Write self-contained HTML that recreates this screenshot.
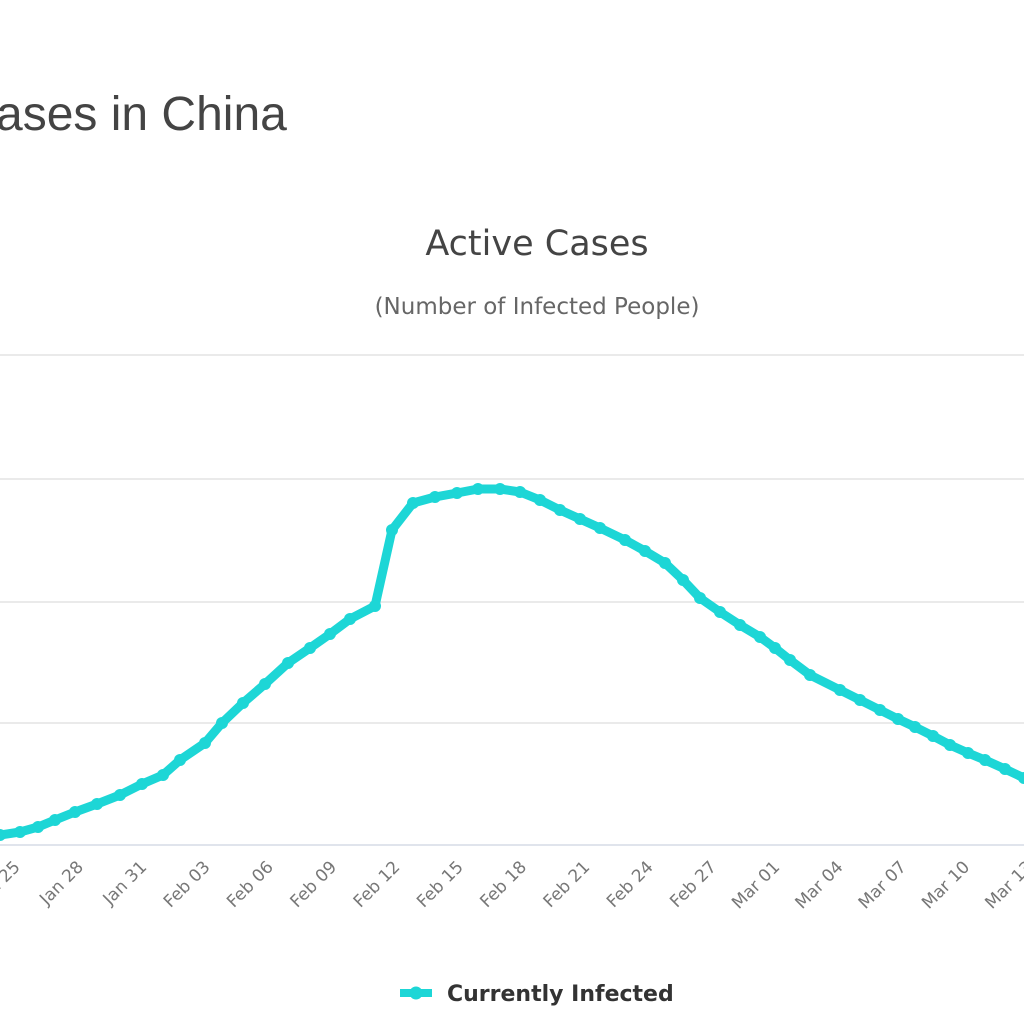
<!DOCTYPE html>
<html><head><meta charset="utf-8"><style>
html,body{margin:0;padding:0;background:#fff;width:1024px;height:1024px;overflow:hidden}
svg{display:block}
text{font-family:"DejaVu Sans","Liberation Sans",sans-serif}
</style></head><body>
<svg id="s" width="1024" height="1024" viewBox="0 0 1024 1024">
<text x="-4" y="130" font-size="48" fill="#444" style="font-family:'Liberation Sans',sans-serif">ases in China</text>
<text x="537" y="255" font-size="35" fill="#444" text-anchor="middle">Active Cases</text>
<text x="537" y="314" font-size="23" fill="#666" text-anchor="middle">(Number of Infected People)</text>
<g stroke="#e3e3e3" stroke-width="1.5">
<line x1="0" x2="1024" y1="355" y2="355"/><line x1="0" x2="1024" y1="479" y2="479"/>
<line x1="0" x2="1024" y1="602" y2="602"/><line x1="0" x2="1024" y1="723" y2="723"/>
<line x1="0" x2="1024" y1="845" y2="845" stroke="#d6dbe6"/>
</g>
<g id="lbl" font-size="17" fill="#777" text-anchor="end"></g>
<polyline id="pl" fill="none" stroke="#1dd6d6" stroke-width="9" stroke-linejoin="round"/>
<g id="mk" fill="#1dd6d6"></g>
<line x1="400" x2="432" y1="993" y2="993" stroke="#1dd6d6" stroke-width="8"/>
<circle cx="416" cy="993" r="6.5" fill="#1dd6d6"/>
<text x="447" y="1001" font-size="22" font-weight="bold" fill="#333">Currently Infected</text>
</svg>
<script>
var P=[[0,835],[20,832],[38,827],[55,820],[75,812],[97,804],[120,795],[142,784],[163,775],[180,760],[205,743],[222,723],[243,703],[265,684],[288,663],[310,648],[330,634],[350,619],[375,606],[392,530],[413,503],[435,497],[457,493],[478,489],[500,489],[520,492],[540,500],[560,510],[580,519],[600,528],[625,540],[645,551],[665,563],[683,580],[700,598],[720,612],[740,625],[760,637],[775,648],[790,660],[810,675],[840,690],[860,700],[880,710],[898,719],[915,727],[933,736],[950,745],[968,753],[985,760],[1005,769],[1024,778]];
document.getElementById('pl').setAttribute('points',P.map(p=>p.join(',')).join(' '));
var mk=document.getElementById('mk'),h='';
P.forEach(p=>{h+='<circle cx="'+p[0]+'" cy="'+p[1]+'" r="6"/>';});
mk.innerHTML=h;
var L=['Jan 25','Jan 28','Jan 31','Feb 03','Feb 06','Feb 09','Feb 12','Feb 15','Feb 18','Feb 21','Feb 24','Feb 27','Mar 01','Mar 04','Mar 07','Mar 10','Mar 13'],g='';
L.forEach((t,i)=>{var x=21+63.3*i,y=868;g+='<text transform="translate('+x+','+y+') rotate(-45)">'+t+'</text>';});
document.getElementById('lbl').innerHTML=g;
</script>
</body></html>
